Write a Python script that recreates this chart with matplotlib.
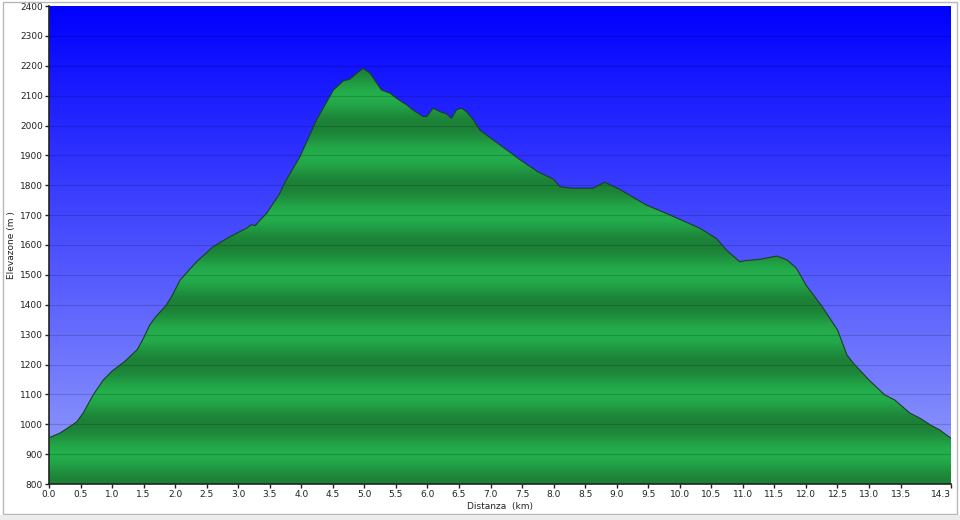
#!/usr/bin/env python3
"""
Elevation profile (altimetria) of a hiking track: green filled profile over a
blue gradient sky, elevation in metres vs distance in km.
Writes out.png (960x520).
"""

import matplotlib
matplotlib.use("Agg")
import matplotlib.pyplot as plt
import numpy as np
from matplotlib.patches import Rectangle

# ============================== DATA ==========================================
dist_km = [0.00, 0.17, 0.33, 0.44, 0.54, 0.70, 0.86, 1.00, 1.20, 1.40, 1.50,
           1.60, 1.70, 1.85, 1.95, 2.08, 2.34, 2.60, 2.87, 3.13, 3.21, 3.27,
           3.35, 3.45, 3.66, 3.74, 3.98, 4.24, 4.51, 4.67, 4.77, 4.88, 4.98,
           5.09, 5.27, 5.41, 5.51, 5.67, 5.77, 5.93, 5.99, 6.09, 6.20, 6.30,
           6.38, 6.46, 6.54, 6.62, 6.73, 6.83, 7.04, 7.26, 7.47, 7.75, 8.00,
           8.10, 8.30, 8.62, 8.81, 9.05, 9.47, 9.85, 10.32, 10.58, 10.74,
           10.95, 11.05, 11.27, 11.54, 11.70, 11.85, 12.00, 12.25, 12.50,
           12.65, 12.75, 13.00, 13.25, 13.41, 13.65, 13.81, 13.97, 14.12, 14.30]
elev_m = [955, 970, 992, 1008, 1037, 1098, 1148, 1178, 1210, 1250, 1289,
          1333, 1362, 1396, 1430, 1483, 1544, 1594, 1628, 1656, 1668, 1665,
          1684, 1706, 1773, 1810, 1896, 2018, 2119, 2150, 2155, 2175, 2191,
          2175, 2119, 2108, 2091, 2069, 2052, 2030, 2030, 2058, 2046, 2039,
          2024, 2052, 2058, 2046, 2018, 1985, 1952, 1918, 1885, 1845, 1820,
          1795, 1790, 1790, 1810, 1786, 1734, 1700, 1656, 1622, 1583,
          1544, 1548, 1552, 1563, 1550, 1522, 1466, 1396, 1316,
          1232, 1205, 1148, 1098, 1081, 1037, 1020, 998, 981, 953]

x_ticks = [0.0, 0.5, 1.0, 1.5, 2.0, 2.5, 3.0, 3.5, 4.0, 4.5, 5.0, 5.5, 6.0,
           6.5, 7.0, 7.5, 8.0, 8.5, 9.0, 9.5, 10.0, 10.5, 11.0, 11.5, 12.0,
           12.5, 13.0, 13.5, 14.3]
y_ticks = list(range(800, 2401, 100))

XLABEL = "Distanza  (km)"
YLABEL = "Elevazone (m )"
# =============================================================================

X_MAX, Y_MIN, Y_MAX = 14.3, 800, 2400
SKY_TOP = np.array([0, 0, 255]) / 255
SKY_BOT = np.array([150, 160, 252]) / 255
GREEN_LIGHT = np.array([36, 174, 76]) / 255
GREEN_DARK = np.array([28, 128, 54]) / 255


def main():
    fig = plt.figure(figsize=(9.6, 5.2), dpi=100, facecolor="white")
    ax = fig.add_axes([49 / 960, 1 - 484 / 520, 902 / 960, 478 / 520])

    # window-ish frame around the chart
    fig.patches.append(Rectangle((3 / 960, 6 / 520), 954 / 960, 512 / 520,
                                 transform=fig.transFigure, fill=False,
                                 edgecolor="#b8b8b8", lw=1.0, zorder=0))
    fig.patches.append(Rectangle((0, 0), 1, 5 / 520, transform=fig.transFigure,
                                 facecolor="#ececec", edgecolor="none", zorder=0))

    # sky gradient
    t = np.linspace(0, 1, 256)[:, None]
    sky = SKY_TOP * (1 - t[..., None]) + SKY_BOT * t[..., None]
    sky = np.repeat(sky, 2, axis=1)
    ax.imshow(sky, extent=[0, X_MAX, Y_MIN, Y_MAX], origin="upper",
              aspect="auto", zorder=0, interpolation="bilinear")

    # banded green fill, clipped to the profile
    ev = np.linspace(Y_MAX, Y_MIN, 800)
    k = 0.5 - 0.5 * np.cos(np.pi * (ev - 800) / 100)
    band = GREEN_DARK * (1 - k[:, None]) + GREEN_LIGHT * k[:, None]
    band = np.repeat(band[:, None, :], 2, axis=1)
    poly = ax.fill_between(dist_km, elev_m, Y_MIN, facecolor="none",
                           edgecolor="none", zorder=1)
    img = ax.imshow(band, extent=[0, X_MAX, Y_MIN, Y_MAX], origin="upper",
                    aspect="auto", zorder=1, interpolation="bilinear")
    img.set_clip_path(poly.get_paths()[0], transform=ax.transData)
    ax.plot(dist_km, elev_m, color="#1c3f26", lw=0.8, zorder=3)

    for y in y_ticks[1:-1]:
        ax.axhline(y, color="black", alpha=0.16, lw=0.8, zorder=2)

    ax.set_xlim(0, X_MAX)
    ax.set_ylim(Y_MIN, Y_MAX)
    ax.set_xticks(x_ticks)
    ax.set_xticklabels([f"{v:.1f}" for v in x_ticks])
    ax.get_xticklabels()[-1].set_horizontalalignment("right")
    ax.set_yticks(y_ticks)
    ax.tick_params(labelsize=6.5, length=3, width=1, color="#222222",
                   pad=1.5, labelcolor="#222222")
    for s in ("top", "right"):
        ax.spines[s].set_visible(False)
    for s in ("left", "bottom"):
        ax.spines[s].set_color("#222222")
        ax.spines[s].set_linewidth(1.2)

    ax.set_xlabel(XLABEL, fontsize=6.5, color="#222222", labelpad=2)
    ax.set_ylabel(YLABEL, fontsize=6.5, color="#222222")
    ax.yaxis.set_label_coords(-33 / 902, 0.5)

    fig.savefig("out.png", dpi=100, facecolor=fig.get_facecolor())


if __name__ == "__main__":
    main()
